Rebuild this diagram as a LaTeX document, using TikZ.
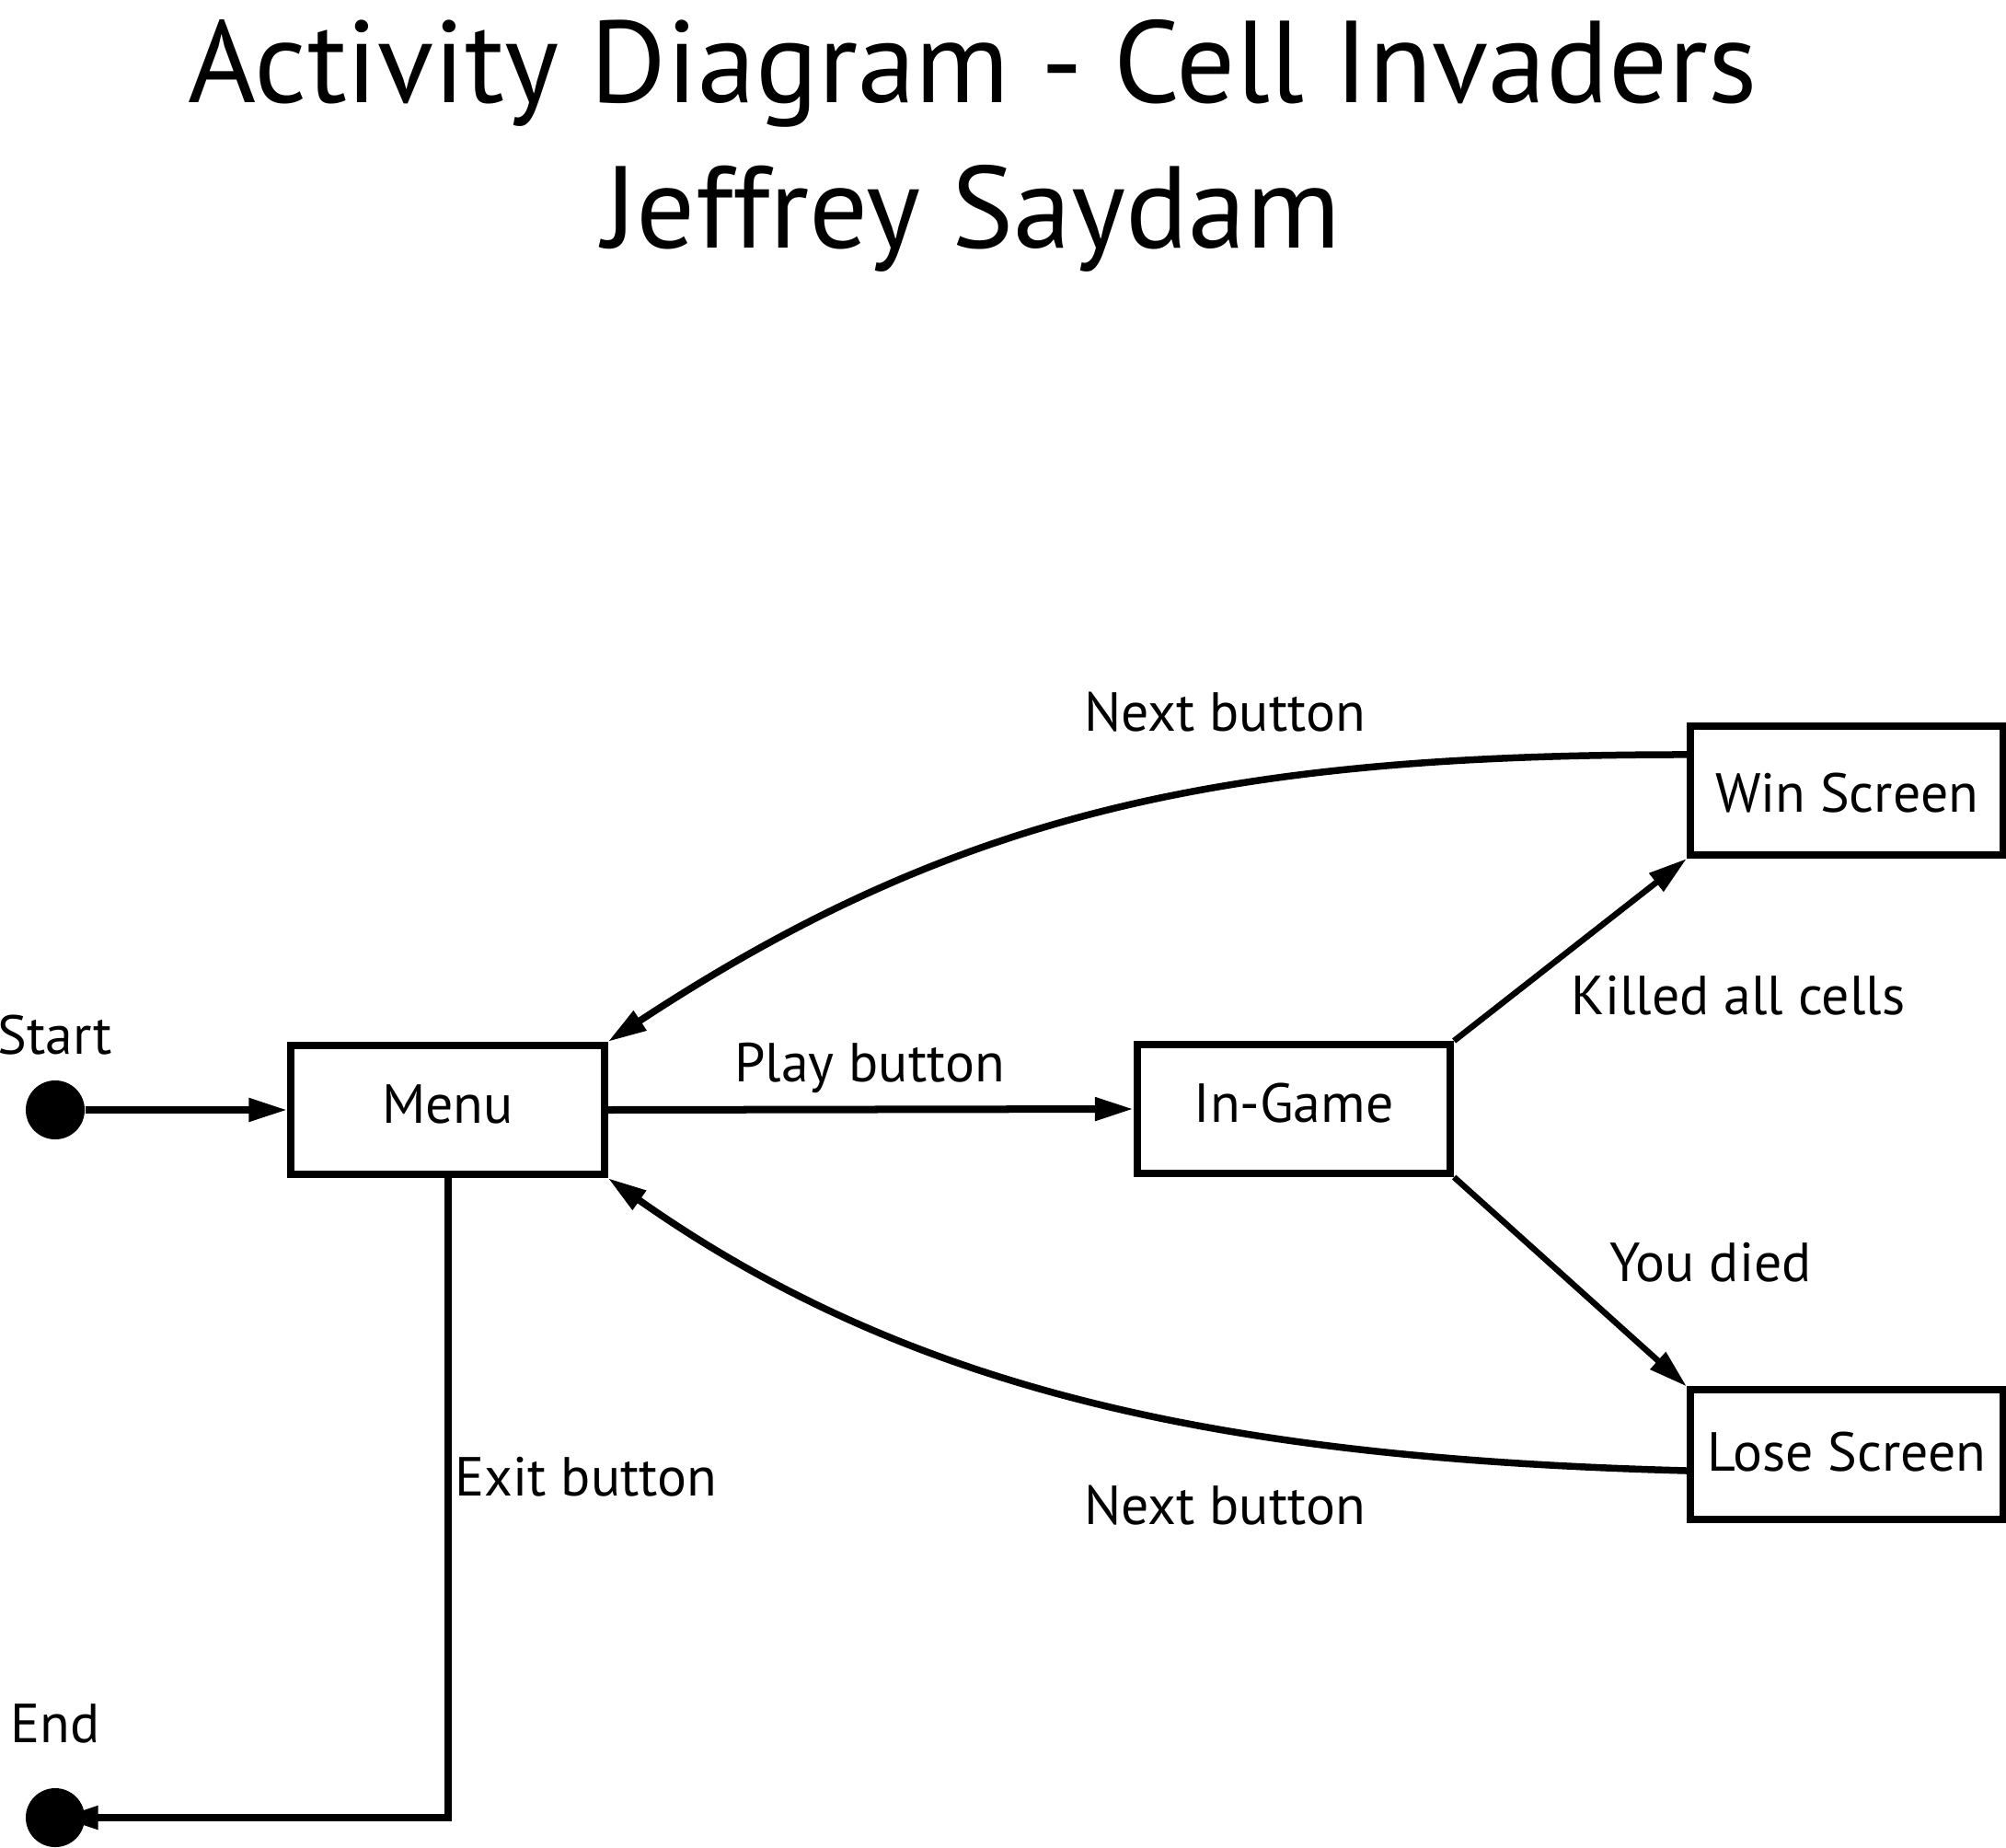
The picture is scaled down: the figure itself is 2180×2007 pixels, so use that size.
\documentclass[tikz,border=0pt]{standalone}
\usepackage{fontspec}
\setmainfont{PT Sans}
\usetikzlibrary{arrows.meta,calc}
\begin{document}
\begin{tikzpicture}[x=0.01cm,y=-0.01cm,
  stbox/.style={draw, line width=0.08cm, minimum width=3.4cm, minimum height=1.4cm, inner sep=0pt,
    font=\fontsize{17}{20}\selectfont, text height=0.42cm, text depth=0.14cm},
  lbl/.style={anchor=base, inner sep=0pt, font=\fontsize{17}{20}\selectfont},
  ttl/.style={anchor=base, inner sep=0pt, font=\fontsize{36}{40}\selectfont},
  dot/.style={circle, fill=black, minimum size=0.64cm, inner sep=0pt},
  conn/.style={line width=0.08cm, -{Triangle[length=0.42cm,width=0.24cm]}},
  curv/.style={line width=0.075cm, -{Triangle[length=0.42cm,width=0.24cm]}},
  diag/.style={line width=0.065cm, -{Triangle[length=0.42cm,width=0.24cm]}}
]
\useasboundingbox (0,0) rectangle (2180,2007);

% title
\node[ttl] (title1) at (1057,112) {Activity Diagram - Cell Invaders};
\node[ttl] (title2) at (1056,270) {Jeffrey Saydam};

% states
\node[stbox] (menu) at (486.5,1206) {Menu};
\node[stbox] (ingame) at (1406,1205) {In-Game};
\node[stbox, text height=0.60cm] (win) at (2007,859) {Win Screen};
\node[stbox, text height=0.50cm] (lose) at (2007,1580.5) {Lose Screen};

% start / end
\node[dot] (initial) at (60,1206) {};
\node[dot] (final) at (60,1975) {};
\node[lbl] (startlbl) at (60,1145) {Start};
\node[lbl] (endlbl) at (60,1893) {End};

% connector labels
\node[lbl] (playlbl) at (945,1175) {Play button};
\node[lbl] (nextup) at (1331,794) {Next button};
\node[lbl] (killed) at (1889,1102) {Killed all cells};
\node[lbl] (died) at (1859,1392) {You died};
\node[lbl] (nextdown) at (1331,1656) {Next button};
\node[lbl] (exitlbl) at (637,1625) {Exit button};

% connectors
\draw[conn] (initial) -- (menu.west);
\draw[conn] (menu.east) -- (ingame.west);
\draw[diag] (ingame.north east) -- (win.south west);
\draw[diag] (ingame.south east) -- (lose.north west);
\draw[curv] ([yshift=0.39cm]win.west) .. controls +(-500,0) and +(380,-250) .. (menu.north east);
\draw[curv] ([yshift=-0.175cm]lose.west) .. controls +(-480,-13) and +(340,240) .. (menu.south east);
\draw[conn, shorten >=-0.28cm] (menu.south) |- (final);
\end{tikzpicture}
\end{document}
